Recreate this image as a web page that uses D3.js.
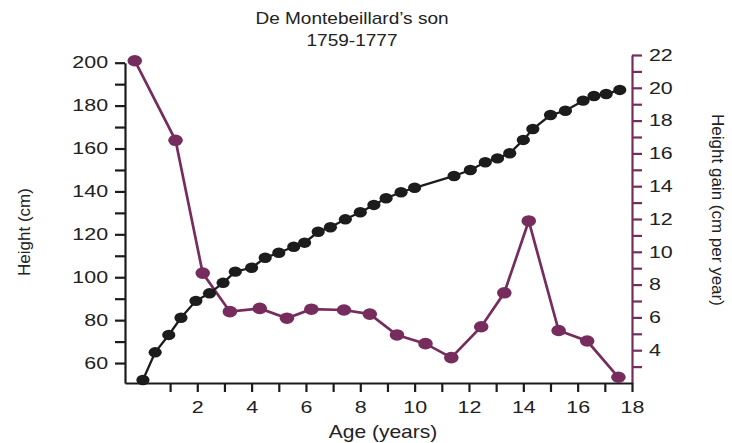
<!DOCTYPE html>
<html>
<head>
<meta charset="utf-8">
<script src="https://cdn.jsdelivr.net/npm/d3@7"></script>
<style>
  html, body { margin: 0; padding: 0; background: #fff; }
  svg { display: block; }
  text { font-family: "Liberation Sans", Arial, Helvetica, sans-serif; fill: #222; }
</style>
</head>
<body>
<svg id="chart" width="732" height="443"></svg>
<script>
// ---- data ----
const heightAges = [0, 0.45, 0.95, 1.4, 1.95, 2.45, 2.95, 3.4, 4.0, 4.5, 5.0, 5.55, 5.95, 6.45, 6.9, 7.45,
                    8.0, 8.5, 8.95, 9.5, 10.0, 11.45, 12.05, 12.6, 13.05, 13.5, 14.0, 14.35, 15.0, 15.55,
                    16.2, 16.6, 17.05, 17.55];
const heights = [52.1, 65.0, 73.1, 81.1, 89.0, 92.5, 97.4, 102.6, 104.4, 109.1, 111.4, 114.2, 116.1, 121.2,
                 123.3, 127.0, 130.3, 133.7, 136.8, 139.6, 141.7, 147.2, 150.0, 153.6, 155.4, 157.8, 164.0,
                 169.1, 175.6, 177.6, 182.3, 184.5, 185.4, 187.3];
const gainAges = [-0.3, 1.2, 2.2, 3.2, 4.3, 5.3, 6.2, 7.4, 8.35, 9.35, 10.4, 11.35, 12.45, 13.3, 14.2,
                  15.3, 16.35, 17.5];
const gains = [21.65, 16.8, 8.7, 6.35, 6.55, 5.95, 6.5, 6.45, 6.2, 4.93, 4.4, 3.55, 5.43, 7.5, 11.88,
               5.2, 4.56, 2.35];
const xTickValues = [1,2,3,4,5,6,7,8,9,10,11,12,13,14,15,16,17,18];
const leftTickValues = [60,70,80,90,100,110,120,130,140,150,160,170,180,190,200];
const rightTickValues = [3,4,5,6,7,8,9,10,11,12,13,14,15,16,17,18,19,20,21,22];
const titleLines = ["De Montebeillard\u2019s son", "1759-1777"];
const xTitle = "Age (years)";
const leftTitle = "Height (cm)";
const rightTitle = "Height gain (cm per year)";

// ---- layout ----
const BLACK = "#1c1c1c", PURPLE = "#762d5e";
const SX = 1.3; // horizontal stretch of the source image
const svg = d3.select("#chart");

const x = d3.scaleLinear().domain([-0.66, 18]).range([125, 632]);
const yL = d3.scaleLinear().domain([50.7, 200]).range([383, 62.7]);
const yR = d3.scaleLinear().domain([2, 22]).range([383, 55]);

function styleAxis(g, color) {
  g.selectAll("path.domain").attr("stroke", color).attr("stroke-width", 2.2);
  g.selectAll(".tick line").attr("stroke", color).attr("stroke-width", 2.2);
  g.selectAll(".tick text")
    .attr("font-size", 16.5)
    .attr("fill", "#1e1e1e")
    .attr("font-family", "Liberation Sans, Arial, sans-serif")
    .attr("transform", `scale(${SX},1)`);
}

// left axis
const gL = svg.append("g").attr("transform", `translate(${x.range()[0]},0)`)
  .call(d3.axisLeft(yL).tickValues(leftTickValues)
    .tickFormat(d => d % 20 === 0 ? d : "").tickSize(10).tickSizeOuter(0).tickPadding(3));
styleAxis(gL, BLACK);

// right axis
const gR = svg.append("g").attr("transform", `translate(${x(18)},0)`)
  .call(d3.axisRight(yR).tickValues(rightTickValues)
    .tickFormat(d => d % 2 === 0 ? d : "").tickSize(10).tickSizeOuter(0).tickPadding(3));
styleAxis(gR, PURPLE);

// bottom axis
const gB = svg.append("g").attr("transform", `translate(0,${yL.range()[0]})`)
  .call(d3.axisBottom(x).tickValues(xTickValues)
    .tickFormat(d => d % 2 === 0 ? d : "").tickSize(9).tickSizeOuter(0).tickPadding(9));
styleAxis(gB, BLACK);

// gain series (purple)
svg.append("path")
  .datum(gainAges.map((a, i) => [a, gains[i]]))
  .attr("fill", "none").attr("stroke", PURPLE).attr("stroke-width", 2.7)
  .attr("d", d3.line().x(d => x(d[0])).y(d => yR(d[1])));
svg.append("g").selectAll("ellipse")
  .data(gainAges.map((a, i) => [a, gains[i]]))
  .join("ellipse")
  .attr("cx", d => x(d[0])).attr("cy", d => yR(d[1]))
  .attr("rx", 7.3).attr("ry", 5.8).attr("fill", PURPLE);

// height series (black)
svg.append("path")
  .datum(heightAges.map((a, i) => [a, heights[i]]))
  .attr("fill", "none").attr("stroke", BLACK).attr("stroke-width", 2.3)
  .attr("d", d3.line().x(d => x(d[0])).y(d => yL(d[1])));
svg.append("g").selectAll("ellipse")
  .data(heightAges.map((a, i) => [a, heights[i]]))
  .join("ellipse")
  .attr("cx", d => x(d[0])).attr("cy", d => yL(d[1]))
  .attr("rx", 6.6).attr("ry", 5.2).attr("fill", BLACK);

// titles
titleLines.forEach((t, i) => {
  svg.append("text")
    .attr("transform", `translate(352,${24 + i * 22}) scale(1.12,1)`)
    .attr("text-anchor", "middle").attr("font-size", 17).text(t);
});
svg.append("text")
  .attr("transform", `translate(383,438) scale(1.2,1)`)
  .attr("text-anchor", "middle").attr("font-size", 17.5).text(xTitle);
svg.append("text")
  .attr("transform", `translate(30,232) rotate(-90)`)
  .attr("text-anchor", "middle").attr("font-size", 17).text(leftTitle);
svg.append("text")
  .attr("transform", `translate(712,210) rotate(90)`)
  .attr("text-anchor", "middle").attr("font-size", 17).text(rightTitle);
</script>
</body>
</html>
